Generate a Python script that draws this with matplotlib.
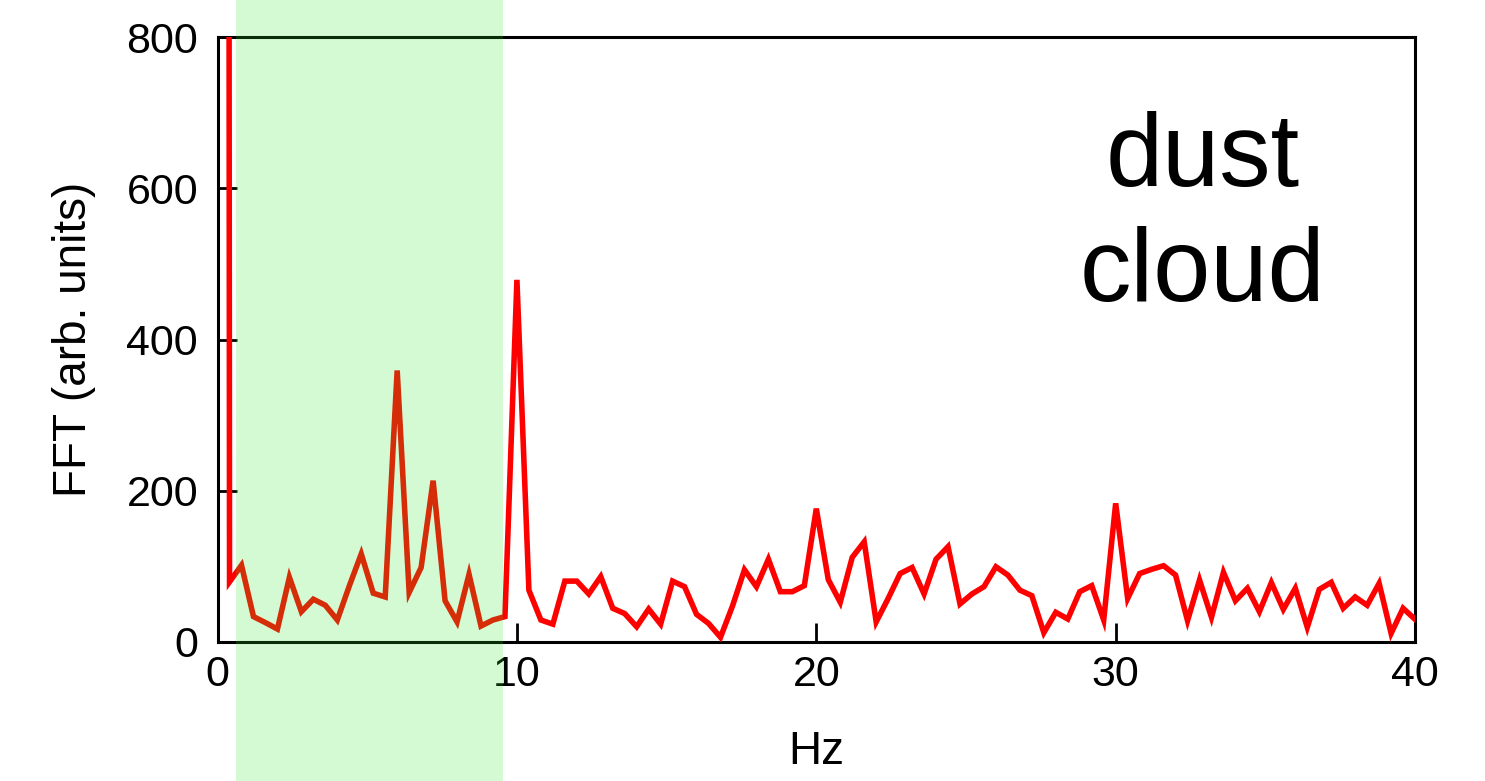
import numpy as np
import matplotlib
matplotlib.use("Agg")
import matplotlib.pyplot as plt
from matplotlib.patches import Rectangle
from matplotlib.transforms import blended_transform_factory

# ---- data ----
freq_step = 0.4
dc_value = 20000.0
fft_values = [
    79, 101, 33, 25, 16.5, 85, 39.5, 56, 48, 28.5,           # 0.4 - 4.0
    73.5, 116, 64, 59, 359, 65, 98, 213, 54, 26,             # 4.4 - 8.0
    89, 20.5, 28.5, 33, 479, 68, 28.5, 23, 80, 80,           # 8.4 - 12.0
    63, 86, 44, 37, 19.6, 43, 23, 80, 72.6, 36,              # 12.4 - 16.0
    24, 5.6, 47, 95, 72.6, 109, 66, 66, 74, 176,             # 16.4 - 20.0
    82, 52, 111.5, 132, 26, 57, 90, 98, 63, 109,             # 20.4 - 24.0
    125.6, 49.7, 63, 72.6, 99, 88, 68, 60.7, 11.7, 38.7,     # 24.4 - 28.0
    29.8, 66, 74, 28.5, 183, 57, 90, 95.6, 100.4, 88,        # 28.4 - 32.0
    27.6, 81.5, 32, 91.6, 54, 70.5, 39.5, 78, 42.6, 70.5,    # 32.4 - 36.0
    18.8, 69, 78.4, 44, 59, 48, 77, 10.8, 44, 29.4,          # 36.4 - 40.0
]
band_range = [0.62, 9.52]
x_ticks = [0, 10, 20, 30, 40]
y_ticks = [0, 200, 400, 600, 800]
x_label = "Hz"
y_label = "FFT (arb. units)"
annotation = "dust\ncloud"

freqs = np.arange(len(fft_values) + 1) * freq_step
values = np.array([dc_value] + fft_values)

plt.rcParams['font.family'] = ['Liberation Sans', 'DejaVu Sans']

fig = plt.figure(figsize=(14.85, 7.81), dpi=100)
ax = fig.add_axes([0.1465, 0.1786, 0.8064, 0.7734])

ax.plot(freqs, values, color='#ff0000', lw=4.0, solid_joinstyle='miter', zorder=3)
ax.set_xlim(0, 40)
ax.set_ylim(0, 800)
ax.set_xticks(x_ticks)
ax.set_yticks(y_ticks)
ax.tick_params(direction='in', length=14, width=2, labelsize=31,
               top=False, right=False, colors='black')
ax.tick_params(axis='y', pad=14)
ax.tick_params(axis='x', pad=10)
for s in ax.spines.values():
    s.set_linewidth(2.2)

ax.set_xlabel(x_label, fontsize=33, labelpad=25)
ax.set_ylabel(y_label, fontsize=33, labelpad=22)

ax.text(0.8225, 0.703, annotation, transform=ax.transAxes, fontsize=74,
        ha='center', va='center', linespacing=1.25)

trans = blended_transform_factory(ax.transData, fig.transFigure)
rect = Rectangle((band_range[0], 0), band_range[1] - band_range[0], 1,
                 transform=trans, facecolor=(0.16, 0.9, 0.16), alpha=0.2,
                 edgecolor='none', zorder=10)
fig.add_artist(rect)

fig.savefig("out.png", dpi=100)
